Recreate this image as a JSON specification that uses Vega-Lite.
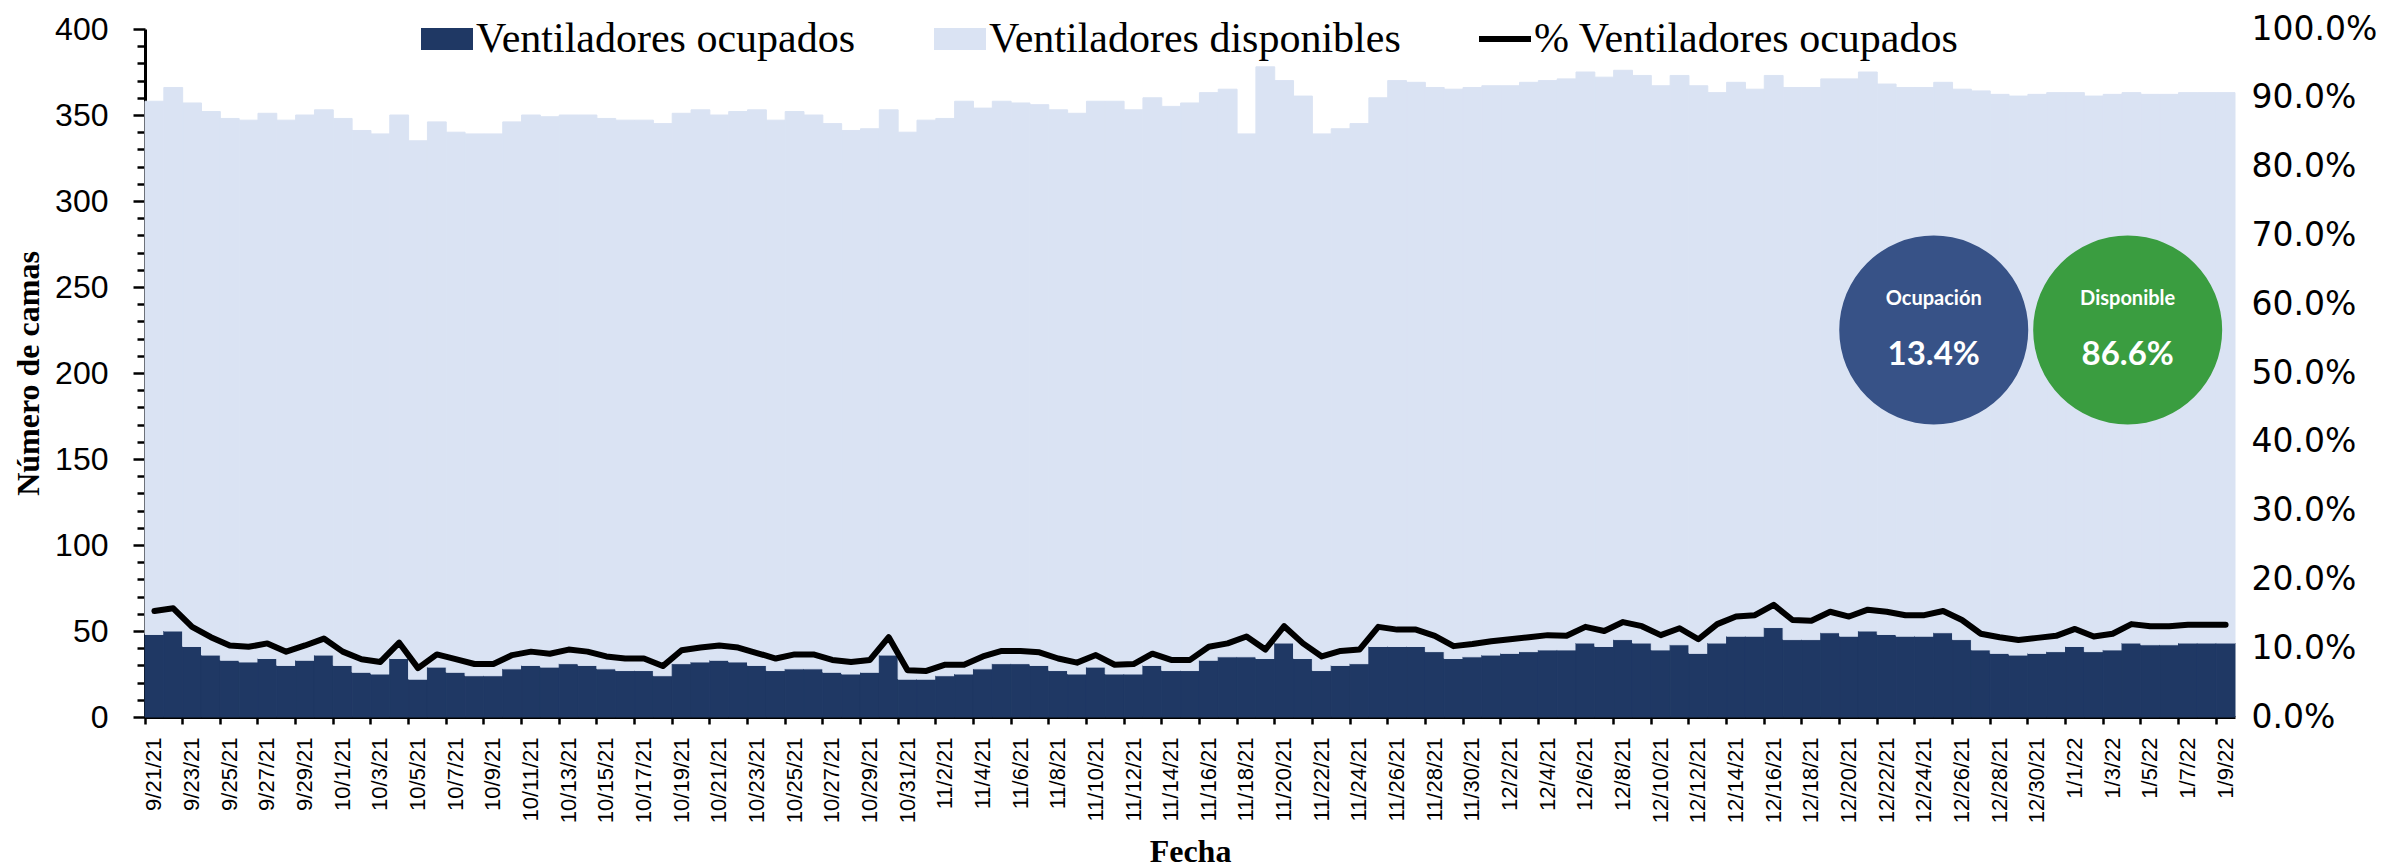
{
  "$schema": "https://vega.github.io/schema/vega-lite/v6.json",
  "width": 2090,
  "height": 688,
  "autosize": {"type": "none"},
  "padding": {"left": 145, "top": 29, "right": 170, "bottom": 151},
  "background": "white",
  "config": {"view": {"stroke": null}, "font": "Liberation Sans", "axis": {"grid": false}},
  "datasets": {
    "d": [
      {"f":"9/21/21","ocupados":48,"disponibles":310,"pct":0.154},
      {"f":"9/22/21","ocupados":50,"disponibles":316,"pct":0.158},
      {"f":"9/23/21","ocupados":41,"disponibles":316,"pct":0.131},
      {"f":"9/24/21","ocupados":36,"disponibles":316,"pct":0.116},
      {"f":"9/25/21","ocupados":33,"disponibles":315,"pct":0.104},
      {"f":"9/26/21","ocupados":32,"disponibles":315,"pct":0.102},
      {"f":"9/27/21","ocupados":34,"disponibles":317,"pct":0.107},
      {"f":"9/28/21","ocupados":30,"disponibles":317,"pct":0.095},
      {"f":"9/29/21","ocupados":33,"disponibles":317,"pct":0.104},
      {"f":"9/30/21","ocupados":36,"disponibles":317,"pct":0.114},
      {"f":"10/1/21","ocupados":30,"disponibles":318,"pct":0.095},
      {"f":"10/2/21","ocupados":26,"disponibles":315,"pct":0.084},
      {"f":"10/3/21","ocupados":25,"disponibles":314,"pct":0.080},
      {"f":"10/4/21","ocupados":34,"disponibles":316,"pct":0.108},
      {"f":"10/5/21","ocupados":22,"disponibles":313,"pct":0.071},
      {"f":"10/6/21","ocupados":29,"disponibles":317,"pct":0.091},
      {"f":"10/7/21","ocupados":26,"disponibles":314,"pct":0.084},
      {"f":"10/8/21","ocupados":24,"disponibles":315,"pct":0.077},
      {"f":"10/9/21","ocupados":24,"disponibles":315,"pct":0.077},
      {"f":"10/10/21","ocupados":28,"disponibles":318,"pct":0.090},
      {"f":"10/11/21","ocupados":30,"disponibles":320,"pct":0.095},
      {"f":"10/12/21","ocupados":29,"disponibles":320,"pct":0.092},
      {"f":"10/13/21","ocupados":31,"disponibles":319,"pct":0.098},
      {"f":"10/14/21","ocupados":30,"disponibles":320,"pct":0.095},
      {"f":"10/15/21","ocupados":28,"disponibles":320,"pct":0.088},
      {"f":"10/16/21","ocupados":27,"disponibles":320,"pct":0.085},
      {"f":"10/17/21","ocupados":27,"disponibles":320,"pct":0.085},
      {"f":"10/18/21","ocupados":24,"disponibles":321,"pct":0.074},
      {"f":"10/19/21","ocupados":31,"disponibles":320,"pct":0.097},
      {"f":"10/20/21","ocupados":32,"disponibles":321,"pct":0.101},
      {"f":"10/21/21","ocupados":33,"disponibles":317,"pct":0.104},
      {"f":"10/22/21","ocupados":32,"disponibles":320,"pct":0.101},
      {"f":"10/23/21","ocupados":30,"disponibles":323,"pct":0.093},
      {"f":"10/24/21","ocupados":27,"disponibles":320,"pct":0.085},
      {"f":"10/25/21","ocupados":28,"disponibles":324,"pct":0.091},
      {"f":"10/26/21","ocupados":28,"disponibles":322,"pct":0.091},
      {"f":"10/27/21","ocupados":26,"disponibles":319,"pct":0.083},
      {"f":"10/28/21","ocupados":25,"disponibles":316,"pct":0.080},
      {"f":"10/29/21","ocupados":26,"disponibles":316,"pct":0.083},
      {"f":"10/30/21","ocupados":36,"disponibles":317,"pct":0.116},
      {"f":"10/31/21","ocupados":22,"disponibles":318,"pct":0.068},
      {"f":"11/1/21","ocupados":22,"disponibles":325,"pct":0.067},
      {"f":"11/2/21","ocupados":24,"disponibles":324,"pct":0.076},
      {"f":"11/3/21","ocupados":25,"disponibles":333,"pct":0.076},
      {"f":"11/4/21","ocupados":28,"disponibles":326,"pct":0.088},
      {"f":"11/5/21","ocupados":31,"disponibles":327,"pct":0.096},
      {"f":"11/6/21","ocupados":31,"disponibles":326,"pct":0.096},
      {"f":"11/7/21","ocupados":30,"disponibles":326,"pct":0.094},
      {"f":"11/8/21","ocupados":27,"disponibles":326,"pct":0.085},
      {"f":"11/9/21","ocupados":25,"disponibles":326,"pct":0.079},
      {"f":"11/10/21","ocupados":29,"disponibles":329,"pct":0.090},
      {"f":"11/11/21","ocupados":25,"disponibles":333,"pct":0.076},
      {"f":"11/12/21","ocupados":25,"disponibles":328,"pct":0.077},
      {"f":"11/13/21","ocupados":30,"disponibles":330,"pct":0.092},
      {"f":"11/14/21","ocupados":27,"disponibles":328,"pct":0.083},
      {"f":"11/15/21","ocupados":27,"disponibles":330,"pct":0.083},
      {"f":"11/16/21","ocupados":33,"disponibles":330,"pct":0.102},
      {"f":"11/17/21","ocupados":35,"disponibles":330,"pct":0.107},
      {"f":"11/18/21","ocupados":35,"disponibles":304,"pct":0.117},
      {"f":"11/19/21","ocupados":34,"disponibles":344,"pct":0.098},
      {"f":"11/20/21","ocupados":43,"disponibles":327,"pct":0.132},
      {"f":"11/21/21","ocupados":34,"disponibles":327,"pct":0.107},
      {"f":"11/22/21","ocupados":27,"disponibles":312,"pct":0.088},
      {"f":"11/23/21","ocupados":30,"disponibles":312,"pct":0.096},
      {"f":"11/24/21","ocupados":31,"disponibles":314,"pct":0.098},
      {"f":"11/25/21","ocupados":41,"disponibles":319,"pct":0.131},
      {"f":"11/26/21","ocupados":41,"disponibles":329,"pct":0.127},
      {"f":"11/27/21","ocupados":41,"disponibles":328,"pct":0.127},
      {"f":"11/28/21","ocupados":38,"disponibles":328,"pct":0.118},
      {"f":"11/29/21","ocupados":34,"disponibles":331,"pct":0.103},
      {"f":"11/30/21","ocupados":35,"disponibles":331,"pct":0.106},
      {"f":"12/1/21","ocupados":36,"disponibles":331,"pct":0.110},
      {"f":"12/2/21","ocupados":37,"disponibles":330,"pct":0.113},
      {"f":"12/3/21","ocupados":38,"disponibles":331,"pct":0.116},
      {"f":"12/4/21","ocupados":39,"disponibles":331,"pct":0.119},
      {"f":"12/5/21","ocupados":39,"disponibles":332,"pct":0.118},
      {"f":"12/6/21","ocupados":43,"disponibles":332,"pct":0.131},
      {"f":"12/7/21","ocupados":41,"disponibles":331,"pct":0.125},
      {"f":"12/8/21","ocupados":45,"disponibles":331,"pct":0.138},
      {"f":"12/9/21","ocupados":43,"disponibles":330,"pct":0.132},
      {"f":"12/10/21","ocupados":39,"disponibles":328,"pct":0.119},
      {"f":"12/11/21","ocupados":42,"disponibles":331,"pct":0.129},
      {"f":"12/12/21","ocupados":37,"disponibles":330,"pct":0.113},
      {"f":"12/13/21","ocupados":43,"disponibles":320,"pct":0.135},
      {"f":"12/14/21","ocupados":47,"disponibles":322,"pct":0.146},
      {"f":"12/15/21","ocupados":47,"disponibles":318,"pct":0.148},
      {"f":"12/16/21","ocupados":52,"disponibles":321,"pct":0.163},
      {"f":"12/17/21","ocupados":45,"disponibles":321,"pct":0.141},
      {"f":"12/18/21","ocupados":45,"disponibles":321,"pct":0.140},
      {"f":"12/19/21","ocupados":49,"disponibles":322,"pct":0.153},
      {"f":"12/20/21","ocupados":47,"disponibles":324,"pct":0.146},
      {"f":"12/21/21","ocupados":50,"disponibles":325,"pct":0.156},
      {"f":"12/22/21","ocupados":48,"disponibles":320,"pct":0.153},
      {"f":"12/23/21","ocupados":47,"disponibles":319,"pct":0.148},
      {"f":"12/24/21","ocupados":47,"disponibles":319,"pct":0.148},
      {"f":"12/25/21","ocupados":49,"disponibles":320,"pct":0.154},
      {"f":"12/26/21","ocupados":45,"disponibles":320,"pct":0.141},
      {"f":"12/27/21","ocupados":39,"disponibles":325,"pct":0.121},
      {"f":"12/28/21","ocupados":37,"disponibles":325,"pct":0.116},
      {"f":"12/29/21","ocupados":36,"disponibles":325,"pct":0.112},
      {"f":"12/30/21","ocupados":37,"disponibles":325,"pct":0.115},
      {"f":"12/31/21","ocupados":38,"disponibles":325,"pct":0.118},
      {"f":"1/1/22","ocupados":41,"disponibles":322,"pct":0.128},
      {"f":"1/2/22","ocupados":38,"disponibles":323,"pct":0.117},
      {"f":"1/3/22","ocupados":39,"disponibles":323,"pct":0.121},
      {"f":"1/4/22","ocupados":43,"disponibles":320,"pct":0.135},
      {"f":"1/5/22","ocupados":42,"disponibles":320,"pct":0.132},
      {"f":"1/6/22","ocupados":42,"disponibles":320,"pct":0.132},
      {"f":"1/7/22","ocupados":43,"disponibles":320,"pct":0.134},
      {"f":"1/8/22","ocupados":43,"disponibles":320,"pct":0.134},
      {"f":"1/9/22","ocupados":43,"disponibles":320,"pct":0.134}
    ]
  },
  "layer": [
    {
      "data": {"name": "d"},
      "transform": [{"fold": ["ocupados", "disponibles"], "as": ["serie", "camas"]}],
      "mark": {"type": "bar", "strokeWidth": 1},
      "encoding": {
        "x": {
          "field": "f", "type": "ordinal", "sort": null,
          "scale": {"paddingInner": 0, "paddingOuter": 0},
          "axis": {
            "values": ["9/21/21","9/23/21","9/25/21","9/27/21","9/29/21","10/1/21","10/3/21","10/5/21","10/7/21","10/9/21","10/11/21","10/13/21","10/15/21","10/17/21","10/19/21","10/21/21","10/23/21","10/25/21","10/27/21","10/29/21","10/31/21","11/2/21","11/4/21","11/6/21","11/8/21","11/10/21","11/12/21","11/14/21","11/16/21","11/18/21","11/20/21","11/22/21","11/24/21","11/26/21","11/28/21","11/30/21","12/2/21","12/4/21","12/6/21","12/8/21","12/10/21","12/12/21","12/14/21","12/16/21","12/18/21","12/20/21","12/22/21","12/24/21","12/26/21","12/28/21","12/30/21","1/1/22","1/3/22","1/5/22","1/7/22","1/9/22"],
            "bandPosition": 0,
            "labelAngle": 270,
            "labelFont": "Liberation Sans", "labelFontSize": 22, "labelColor": "black",
            "labelPadding": 13, "labelOverlap": false,
            "tickSize": 7, "tickWidth": 2.5, "tickColor": "black",
            "domainColor": "black", "domainWidth": 3,
            "title": "Fecha", "titleFont": "Liberation Serif", "titleFontWeight": "bold",
            "titleFontSize": 32, "titleColor": "black", "titlePadding": 14
          }
        },
        "y": {
          "field": "camas", "type": "quantitative", "stack": "zero",
          "scale": {"domain": [0, 400], "nice": false},
          "axis": {
            "values": [0,10,20,30,40,50,60,70,80,90,100,110,120,130,140,150,160,170,180,190,200,210,220,230,240,250,260,270,280,290,300,310,320,330,340,350,360,370,380,390,400],
            "labelExpr": "datum.value % 50 === 0 ? datum.label : ''",
            "labelFont": "Liberation Sans", "labelFontSize": 32, "labelColor": "black",
            "labelPadding": 25, "labelOverlap": false,
            "tickSize": {"condition": {"test": "datum.value % 50 === 0", "value": 12}, "value": 8},
            "tickWidth": 2.5, "tickColor": "black",
            "domainColor": "black", "domainWidth": 3,
            "title": "Número de camas", "titleFont": "Liberation Serif", "titleFontWeight": "bold",
            "titleFontSize": 32, "titleColor": "black", "titlePadding": 9
          }
        },
        "color": {
          "field": "serie", "type": "nominal",
          "scale": {"domain": ["ocupados", "disponibles", "pct"], "range": ["#1F3864", "#DAE3F3", "#000000"]},
          "legend": {
            "orient": "none", "legendX": 276, "legendY": -16, "direction": "horizontal",
            "title": null,
            "labelFont": "Liberation Serif", "labelFontSize": 42, "labelColor": "black", "labelLimit": 0,
            "labelExpr": "datum.value === 'ocupados' ? 'Ventiladores ocupados' : datum.value === 'disponibles' ? 'Ventiladores disponibles' : '% Ventiladores ocupados'",
            "symbolType": "M-1,-0.42H1V0.42H-1Z", "symbolSize": 2704, "symbolStrokeWidth": 0,
            "columnPadding": 78, "labelOffset": 3,
            "encode": {
              "symbols": {
                "update": {
                  "shape": {"signal": "datum.value === 'pct' ? 'M-1,-0.12H1V0.12H-1Z' : 'M-1,-0.42H1V0.42H-1Z'"},
                  "fill": {"scale": "color", "field": "value"},
                  "opacity": {"value": 1},
                  "strokeWidth": {"value": 0}
                }
              }
            }
          }
        },
        "stroke": {
          "field": "serie", "type": "nominal",
          "scale": {"domain": ["ocupados", "disponibles"], "range": ["#1F3864", "#DAE3F3"]},
          "legend": null
        },
        "order": {"field": "serie", "sort": "descending"}
      }
    },
    {
      "data": {"name": "d"},
      "mark": {"type": "line", "strokeWidth": 6, "strokeJoin": "round", "strokeCap": "round"},
      "encoding": {
        "x": {"field": "f", "type": "ordinal", "sort": null},
        "y": {
          "field": "pct", "type": "quantitative",
          "scale": {"domain": [0, 1], "nice": false},
          "axis": {
            "orient": "right",
            "values": [0, 0.1, 0.2, 0.3, 0.4, 0.5, 0.6, 0.7, 0.8, 0.9, 1],
            "format": ".1%",
            "labelFont": "DejaVu Sans", "labelFontSize": 33, "labelColor": "black",
            "labelPadding": 16, "labelOverlap": false,
            "ticks": false, "tickSize": 0, "domain": false, "title": null
          }
        },
        "color": {"datum": "pct"}
      }
    },
    {
      "data": {"values": [{"etiqueta": "Ocupación", "valor": 0.134}]},
      "encoding": {
        "x": {"datum": "12/25/21", "type": "ordinal", "bandPosition": 0},
        "y": {"datum": 225, "type": "quantitative", "scale": {"domain": [0, 400], "nice": false}, "axis": null}
      },
      "layer": [
        {"mark": {"type": "point", "shape": "circle", "filled": true, "size": 35721, "color": "#375287", "opacity": 1, "strokeWidth": 0}},
        {"mark": {"type": "text", "dy": -31, "font": "Lato", "fontWeight": "bold", "fontSize": 20, "color": "white", "baseline": "middle"}, "encoding": {"text": {"field": "etiqueta"}}},
        {"mark": {"type": "text", "dy": 25, "font": "Lato", "fontWeight": "bold", "fontSize": 33, "color": "white", "baseline": "middle"}, "encoding": {"text": {"field": "valor", "format": ".1%"}}}
      ]
    },
    {
      "data": {"values": [{"etiqueta": "Disponible", "valor": 0.866}]},
      "encoding": {
        "x": {"datum": "1/4/22", "type": "ordinal", "bandPosition": 0.3},
        "y": {"datum": 225, "type": "quantitative", "scale": {"domain": [0, 400], "nice": false}, "axis": null}
      },
      "layer": [
        {"mark": {"type": "point", "shape": "circle", "filled": true, "size": 35721, "color": "#3A9D40", "opacity": 1, "strokeWidth": 0}},
        {"mark": {"type": "text", "dy": -31, "font": "Lato", "fontWeight": "bold", "fontSize": 20, "color": "white", "baseline": "middle"}, "encoding": {"text": {"field": "etiqueta"}}},
        {"mark": {"type": "text", "dy": 25, "font": "Lato", "fontWeight": "bold", "fontSize": 33, "color": "white", "baseline": "middle"}, "encoding": {"text": {"field": "valor", "format": ".1%"}}}
      ]
    }
  ],
  "resolve": {"scale": {"y": "independent"}}
}
